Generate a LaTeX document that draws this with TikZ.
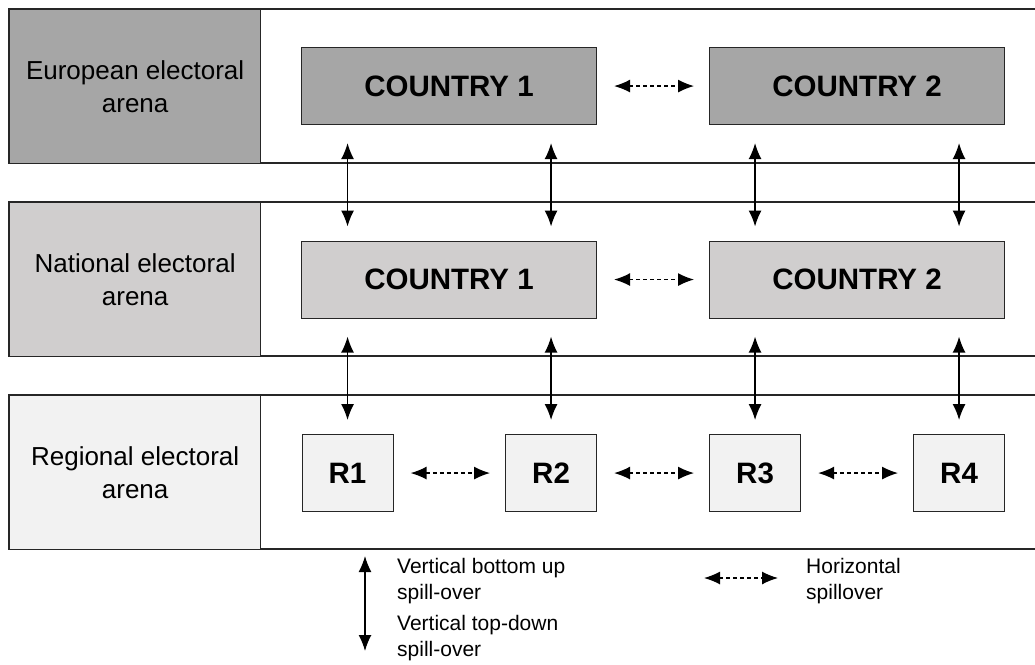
\documentclass[tikz,border=0pt]{standalone}
\usepackage{fontspec}
\setmainfont{Liberation Sans}
\usetikzlibrary{arrows.meta,calc}
\definecolor{euro}{HTML}{A6A6A6}
\definecolor{nat}{HTML}{D0CECE}
\definecolor{reg}{HTML}{F2F2F2}
\definecolor{ln}{HTML}{262626}
\tikzset{
  band/.style={draw=ln,line width=1.3pt},
  cell/.style={draw=ln,line width=1.3pt,minimum width=251pt,minimum height=154pt,anchor=north west,inner sep=0pt,align=center,font=\fontsize{26}{33}\selectfont},
  cbox/.style={draw=ln,line width=1.1pt,minimum width=295pt,minimum height=77pt,anchor=north west,inner sep=0pt,font=\fontsize{29.5}{30}\selectfont\bfseries},
  rbox/.style={draw=ln,line width=1.1pt,fill=reg,minimum width=91pt,minimum height=77pt,anchor=north west,inner sep=0pt,font=\fontsize{29.5}{30}\selectfont\bfseries},
  vert/.style={line width=1.4pt,{Latex[length=16pt,width=13pt]}-{Latex[length=16pt,width=13pt]}},
  hor/.style={line width=1.3pt,dash pattern=on 4pt off 3pt,{Latex[length=16pt,width=13pt]}-{Latex[length=16pt,width=13pt]}},
  legtext/.style={anchor=west,inner sep=0pt,align=left,font=\fontsize{21}{26}\selectfont}
}
\begin{document}
\begin{tikzpicture}[x=1pt,y=-1pt]
\useasboundingbox (0,0) rectangle (1035,664);
\clip (0,0) rectangle (1035,664);
% bands
\draw[band] (1040,9) -- (9,9) -- (9,163) -- (1040,163);
\draw[band] (1040,202) -- (9,202) -- (9,356) -- (1040,356);
\draw[band] (1040,395) -- (9,395) -- (9,549) -- (1040,549);
% label cells
\node[cell,fill=euro] (leu) at (9,9) {European electoral\\arena};
\node[cell,fill=nat] (lna) at (9,202) {National electoral\\arena};
\node[cell,fill=reg] (lre) at (9,395) {Regional electoral\\arena};
% country boxes
\node[cbox,fill=euro] (eu1) at (301,47) {COUNTRY 1};
\node[cbox,fill=euro] (eu2) at (709,47) {COUNTRY 2};
\node[cbox,fill=nat] (na1) at (301,240.5) {COUNTRY 1};
\node[cbox,fill=nat] (na2) at (709,240.5) {COUNTRY 2};
% regional boxes
\node[rbox] (r1) at (301.5,434) {R1};
\node[rbox] (r2) at (505,434) {R2};
\node[rbox] (r3) at (709,434) {R3};
\node[rbox] (r4) at (913,434) {R4};
% horizontal spillover
\draw[hor] ([xshift=17pt]eu1.east) -- ([xshift=-15pt]eu2.west);
\draw[hor] ([xshift=17pt]na1.east) -- ([xshift=-15pt]na2.west);
\draw[hor] ([xshift=17pt]r1.east) -- ([xshift=-15pt]r2.west);
\draw[hor] ([xshift=17pt]r2.east) -- ([xshift=-15pt]r3.west);
\draw[hor] ([xshift=17pt]r3.east) -- ([xshift=-15pt]r4.west);
% vertical spillover
\foreach \r/\a/\b in {r1/eu1/na1, r2/eu1/na1, r3/eu2/na2, r4/eu2/na2}{
  \draw[vert] ([yshift=-18pt]\a.south -| \r.center) -- ([yshift=14pt]\b.north -| \r.center);
  \draw[vert] ([yshift=-18pt]\b.south -| \r.center) -- ([yshift=14pt]\r.north);
}
% legend
\coordinate (lv1) at (365,556);
\coordinate (lv2) at (365,651);
\draw[vert] (lv1) -- (lv2);
\node[legtext] (t1) at (397,581) {Vertical bottom up\\spill-over};
\node[legtext] (t2) at (397,638) {Vertical top-down\\spill-over};
\coordinate (lh1) at (704,578);
\coordinate (lh2) at (778,578);
\draw[hor] (lh1) -- (lh2);
\node[legtext] (t3) at (806,581) {Horizontal\\spillover};
\end{tikzpicture}
\end{document}
